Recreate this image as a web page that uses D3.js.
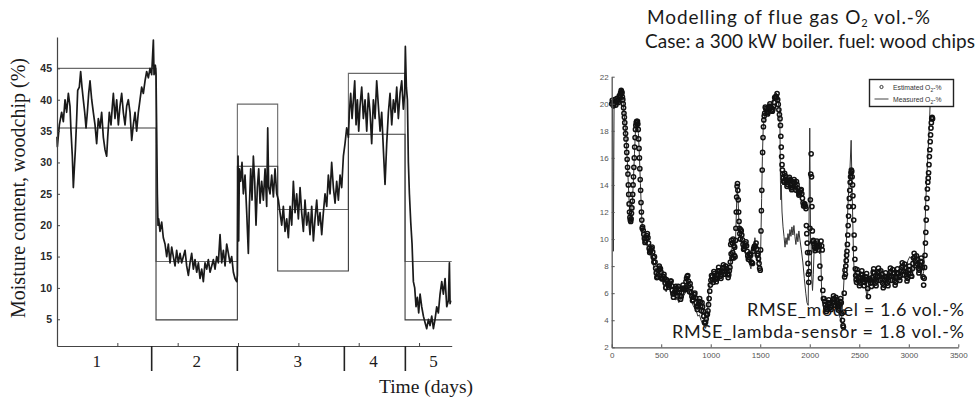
<!DOCTYPE html>
<html><head><meta charset="utf-8">
<script src="https://cdn.jsdelivr.net/npm/d3@7"></script>
<style>body{margin:0;background:#fff} svg{display:block}</style>
</head><body><svg id="c" width="978" height="400"></svg>
<script>
// ---------- Left chart: woodchip moisture ----------
const moistureTicks = [5,10,15,20,25,30,35,40,45];
const dayTicks = [0,1,2,3,4,5,6];
const periodLabels = ["1","2","3","4","5"];
const periodLabelDay = [0.657, 2.315, 3.989, 5.243, 6.238];
const periodSeparatorDay = [1.569, 2.989, 4.762, 5.773];
const bandDay = [0, 1.641, 2.989, 3.657, 4.829, 5.768, 6.541];
const bandUpper = [45, 14.2, 39.3, 22.5, 44.2, 14.2, 14.2];
const bandLower = [35.5, 4.9, 29.4, 12.7, 34.5, 4.9, 4.9];
const moistureDay = [0.000,0.006,0.039,0.077,0.105,0.133,0.160,0.188,0.215,0.232,0.254,0.271,0.287,0.304,0.326,0.343,0.370,0.392,0.414,0.436,0.459,0.481,0.503,0.525,0.547,0.575,0.602,0.630,0.657,0.685,0.713,0.740,0.768,0.796,0.823,0.840,0.867,0.895,0.917,0.934,0.961,0.989,1.017,1.044,1.072,1.099,1.127,1.155,1.182,1.210,1.238,1.265,1.293,1.320,1.348,1.376,1.403,1.431,1.459,1.486,1.514,1.541,1.569,1.597,1.608,1.630,1.641,1.652,1.663,1.674,1.685,1.707,1.735,1.762,1.790,1.818,1.845,1.873,1.901,1.928,1.956,1.983,2.011,2.039,2.066,2.094,2.122,2.149,2.177,2.204,2.232,2.260,2.287,2.315,2.343,2.370,2.398,2.425,2.453,2.481,2.508,2.536,2.564,2.591,2.619,2.646,2.674,2.702,2.729,2.757,2.785,2.812,2.840,2.867,2.895,2.923,2.950,2.978,2.989,3.000,3.011,3.022,3.044,3.066,3.088,3.116,3.144,3.171,3.188,3.210,3.232,3.254,3.276,3.298,3.320,3.343,3.365,3.392,3.420,3.448,3.475,3.492,3.508,3.530,3.558,3.586,3.613,3.641,3.669,3.696,3.724,3.751,3.779,3.807,3.834,3.862,3.890,3.917,3.945,3.972,4.000,4.028,4.055,4.083,4.110,4.138,4.166,4.193,4.221,4.249,4.276,4.304,4.331,4.359,4.387,4.414,4.442,4.470,4.497,4.525,4.552,4.580,4.608,4.635,4.663,4.691,4.718,4.746,4.773,4.801,4.829,4.845,4.867,4.890,4.912,4.934,4.956,4.978,5.000,5.022,5.050,5.077,5.105,5.133,5.160,5.188,5.215,5.243,5.271,5.298,5.326,5.354,5.381,5.409,5.436,5.464,5.492,5.519,5.547,5.575,5.602,5.630,5.657,5.685,5.713,5.740,5.762,5.773,5.790,5.807,5.823,5.840,5.862,5.884,5.906,5.928,5.950,5.972,5.994,6.017,6.044,6.072,6.099,6.127,6.155,6.182,6.210,6.238,6.265,6.293,6.320,6.348,6.376,6.403,6.431,6.459,6.486,6.503,6.514,6.525];
const moisturePct = [34.1,32.5,36,38,36.5,40,38,41,39,35,31,26,29,32,37,41.5,42,44.5,42,40,38,35.5,38,41,43,40,38,36,33,37,35.5,38,34,32,31,34,38,36,39,41,37,40,36,39,41,38,36,39,40,38,33.5,36,38,35,38,40,42,41,43,44.5,43.5,45,44,49.5,44,45.5,44,35,25,20,21,19,20.5,18,17,15,17,14,16.5,15,13.5,16,14,15.5,14,15,16,13.5,12,14,15.5,13,14.5,12.5,14,11.5,13,11,14,13,14.5,12.5,13.5,14.5,13,15,14,18.5,14,16,13.5,17,15.5,14,15,12.5,11.5,11,12,31,17.5,29,27,30,25,28,22,15.5,23,29,24,31,27,20,26,29,23.5,27,24,29,23,35.5,26,25,28,24.5,29,25,24,22,20,23,19,21,18,23,20,27,22,25,21,26,22,19,24,20,22,18.5,23,17.5,21,24,20,22,18.5,22,25,23,28,25,30,26,23.5,27,24,28,26,31,33,35.5,34,38,41,37,40,43,36,40,35,39,42,37,40,35,41,38,33,40,37,43,39,35,38,32,26.5,33,38,41,36,40,38,42,37,41,43,38.5,41,48.5,42,40,30,25,20.5,17,11,10,7,8.5,6,9,7,5.5,4.5,3.5,5,4,5.5,3.5,5,7,6,9,11,9,11.5,7,8,14,7.5,8];

// ---------- Right chart: flue gas O2 ----------
const o2YTicks = [2,4,6,8,10,12,14,16,18,20,22];
const o2XTicks = [0,500,1000,1500,2000,2500,3000,3500];
const estTime = [
0,6,12,18,24,30,36,42,48,54,60,66,72,78,84,90,
96,100,104,108,112,116,120,124,128,132,136,140,144,148,152,156,160,164,168,172,176,180,184,188,192,196,200,204,208,212,216,220,224,228,232,236,240,244,248,252,256,260,264,268,272,276,280,284,288,292,296,300,304,308,
312,318,324,330,336,342,348,354,360,366,
372,378,384,390,396,402,408,414,420,426,
432,438,444,450,456,462,468,474,480,486,
492,498,504,510,516,522,528,534,540,546,
552,558,564,570,576,582,588,594,600,606,
612,618,624,630,636,642,648,654,660,666,
672,678,684,690,696,702,708,714,720,726,
732,738,744,750,756,762,768,774,780,786,
792,798,804,810,816,822,828,834,840,846,
852,858,864,870,876,882,888,894,900,906,
912,918,924,930,936,942,948,954,960,966,
972,978,984,990,996,1002,1008,1014,1020,1026,
1032,1038,1044,1050,1056,1062,1068,1074,1080,1086,
1092,1098,1104,1110,1116,1122,1128,1134,1140,1146,
1152,1158,1164,1170,1176,1182,1188,1194,
1198,1202,1206,1210,1214,1218,1222,1226,1230,1234,1238,1242,1246,1250,1254,1258,1262,1266,1270,1274,1278,1282,1286,1290,1294,1298,1302,
1308,1314,1320,1326,1332,1338,1344,1350,1356,1362,1368,1374,1380,1386,1392,1398,1404,1410,1416,1422,1428,1434,1440,1446,1452,1458,1464,1470,1476,1482,1488,1494,1500,
1504,1508,1512,1516,1520,1524,1528,1532,1536,1540,1544,
1550,1556,1562,1568,1574,1580,1586,1592,1598,1604,1610,1616,1622,1628,1634,1640,1646,1652,1658,1664,1670,1676,1682,1688,1694,1700,
1704,1708,1712,1716,1720,1724,1728,1732,1736,1740,
1746,1752,1758,1764,1770,1776,1782,1788,1794,1800,1806,1812,1818,1824,1830,1836,1842,1848,1854,1860,1866,1872,1878,1884,1890,1896,1902,1908,1914,1920,1926,1932,1938,1944,1950,1956,1962,
1966,1970,1974,1978,1982,1986,1990,1994,1998,2002,2006,2010,2014,2018,2022,2026,2030,
2036,2042,2048,2054,2060,2066,2072,2078,2084,2090,2096,2102,2108,2114,2120,2126,
2132,2138,2144,2150,2156,2162,2168,2174,2180,2186,2192,2198,2204,2210,2216,2222,2228,2234,2240,2246,2252,2258,2264,2270,2276,2282,2288,2294,2300,2306,2312,2318,2324,2330,2336,
2340,2344,2348,2352,2356,2360,2364,2368,2372,2376,2380,2384,2388,2392,2396,2400,2404,2408,2412,2416,2420,2424,2428,2432,2436,2440,2444,2448,2452,2456,2460,2464,2468,2472,
2478,2484,2490,2496,2502,2508,2514,2520,2526,2532,
2538,2544,2550,2556,2562,2568,2574,2580,2586,2592,
2598,2604,2610,2616,2622,2628,2634,2640,2646,2652,
2658,2664,2670,2676,2682,2688,2694,2700,2706,2712,
2718,2724,2730,2736,2742,2748,2754,2760,2766,2772,
2778,2784,2790,2796,2802,2808,2814,2820,2826,2832,
2838,2844,2850,2856,2862,2868,2874,2880,2886,2892,
2898,2904,2910,2916,2922,2928,2934,2940,2946,2952,
2958,2964,2970,2976,2982,2988,2994,3000,3006,3012,
3018,3024,3030,3036,3042,3048,3054,3060,3066,3072,
3078,3084,3090,3096,3102,3108,3114,3120,3126,3132,
3138,3144,3150,3156,
3160,3164,3168,3172,3176,3180,3184,3188,3192,3196,3200,3204,3208,3212,3216,3220,3224,3228,3232,3236,3240];
const estO2 = [
20.0,20.25,20.1,19.85,20.0,20.3,20.15,19.9,20.1,20.4,20.25,20.1,20.35,20.6,20.5,20.8,
21.0,20.9,20.8,20.5,20.3,20.0,19.7,19.3,19.0,18.6,18.2,17.8,17.4,16.9,16.4,15.9,15.3,14.8,14.0,13.3,12.6,12.0,11.6,11.4,11.3,11.5,11.9,12.3,12.8,13.3,14.0,14.6,15.3,16.0,16.8,17.5,18.1,18.4,18.6,18.7,18.5,18.7,18.5,18.1,17.4,16.7,16.0,15.2,14.4,13.6,12.7,12.0,11.4,10.8,
10.9,10.65,10.35,10.05,9.75,9.85,10.05,10.25,10.4,10.1,
9.7,9.3,9.0,9.1,9.2,9.3,9.4,9.05,8.65,8.3,
8.7,8.3,7.85,7.5,7.15,7.2,7.35,7.7,8.0,7.85,
7.8,7.55,7.1,7.05,7.1,7.25,7.4,7.1,6.75,6.4,
7.0,6.9,6.75,6.6,6.45,6.6,6.75,6.9,6.9,6.55,
6.2,5.95,5.7,5.95,6.1,6.35,6.5,6.3,6.05,5.8,
6.5,6.3,6.05,5.8,5.55,5.75,6.05,6.35,6.6,6.35,
6.3,6.25,6.4,6.85,7.1,7.25,7.3,6.9,6.55,6.1,
6.7,6.4,6.05,5.75,5.45,5.5,5.7,5.9,6.0,5.65,
5.3,5.0,4.8,5.0,5.2,5.4,5.6,5.35,5.05,4.7,
5.3,5.0,4.65,4.3,3.85,3.8,3.85,4.1,4.4,4.45,
4.7,5.15,5.6,6.15,6.6,6.95,7.3,7.2,7.0,6.8,
7.6,7.45,7.25,7.05,6.85,7.05,7.35,7.65,7.9,7.65,
7.5,7.25,7.1,7.35,7.6,7.85,8.1,7.9,7.65,7.4,
8.0,7.8,7.6,7.4,7.15,7.35,7.65,7.9,
8.3,9.6,8.9,9.9,8.6,9.7,9.0,10.0,8.6,9.5,8.8,9.4,8.7,9.9,10.8,12.0,13.1,13.9,14.1,13.6,12.9,12.0,11.3,10.8,10.4,10.0,10.7,
10.6,10.3,9.95,9.6,9.25,9.3,9.45,9.65,9.8,9.5,9.1,8.75,8.5,8.65,8.9,8.85,8.8,8.3,8.25,8.2,9.1,9.3,9.45,9.5,9.45,9.7,9.25,8.8,8.9,8.55,8.2,7.85,7.7,
9.2,10.6,12.1,13.6,15.1,16.4,17.5,18.3,18.8,19.1,19.3,
19.75,19.65,19.55,19.35,19.25,19.4,19.55,19.8,20.0,19.8,19.7,19.5,19.45,19.6,19.8,20.1,20.45,20.5,20.55,20.45,20.75,20.3,19.95,19.55,19.2,18.9,
18.4,17.6,16.8,16.1,15.5,15.1,14.8,14.5,14.3,14.2,
14.85,14.67,14.4,14.17,13.9,14.03,14.2,14.43,14.56,14.34,14.06,13.78,13.65,13.83,14.0,14.22,14.4,14.17,13.9,13.62,14.25,14.02,13.75,13.52,13.25,13.33,13.45,13.58,13.66,13.34,13.01,12.68,12.45,12.58,12.6,12.42,12.25,
11.0,10.4,9.7,9.0,8.2,7.4,6.8,7.6,9.0,10.8,12.9,14.8,16.3,14.6,12.4,10.6,9.8,
9.9,9.65,9.4,9.15,9.3,9.55,9.85,9.7,9.45,9.2,9.5,8.0,7.1,9.85,9.5,9.2,
6.2,5.6,5.6,5.4,5.15,4.9,4.65,4.8,5.05,5.3,5.5,5.25,5.2,4.95,4.8,5.05,5.3,5.55,5.8,5.6,5.35,5.1,5.7,5.5,5.25,5.0,4.75,4.9,5.15,5.4,5.6,5.3,4.5,4.0,3.6,
3.5,4.6,6.0,7.2,7.7,7.4,8.0,8.4,8.8,9.1,9.6,10.3,11.0,11.7,12.4,13.0,13.6,14.2,14.6,14.9,15.1,15.0,14.6,14.0,13.2,12.4,11.4,10.3,9.3,8.5,7.8,7.3,7.0,6.8,
7.75,7.5,7.15,6.9,6.55,6.75,7.1,7.4,7.65,7.35,
7.15,6.85,6.55,6.8,7.0,7.2,7.45,7.0,6.35,5.75,
7.05,7.1,6.95,6.75,6.5,6.8,7.15,7.55,7.8,7.5,
7.05,6.75,6.55,6.9,7.2,7.5,7.85,7.6,7.25,6.95,
7.65,7.4,7.05,6.75,6.4,6.6,6.95,7.25,7.5,7.2,
7.05,6.75,6.55,6.9,7.2,7.5,7.85,7.6,7.25,6.95,
7.75,7.5,7.2,6.95,6.6,6.8,7.15,7.5,7.8,7.5,
7.45,7.15,6.95,7.3,7.6,7.9,8.25,8.0,7.65,7.35,
8.15,7.9,7.55,7.25,6.9,7.1,7.45,7.75,8.0,7.7,
7.45,7.25,7.25,7.8,8.2,8.6,8.95,8.7,8.35,8.05,
8.75,8.5,8.15,7.85,7.5,7.7,8.05,8.35,8.6,8.3,
7.9,7.2,6.6,7.1,
7.9,8.8,9.7,10.5,11.4,12.3,13.0,13.7,14.2,14.5,14.9,15.5,16.1,16.6,17.2,17.7,18.2,18.6,18.9,19.0,18.9];
const measTime = [0,8,14,17,20,24,40,60,80,97,110,122,134,146,158,170,180,190,200,210,220,230,240,250,260,270,280,290,300,310,326,342,358,374,390,406,422,438,454,470,486,502,518,534,550,566,582,598,614,630,646,662,678,694,710,726,742,758,774,790,806,822,838,854,870,886,902,918,934,948,960,972,984,998,1014,1030,1046,1062,1078,1094,1110,1126,1142,1158,1174,1190,1206,1222,1238,1250,1260,1268,1276,1284,1296,1310,1326,1342,1358,1374,1390,1406,1422,1438,1446,1462,1478,1494,1505,1514,1522,1530,1542,1558,1574,1590,1606,1622,1638,1654,1662,1670,1686,1698,1704,1708,1712,1720,1730,1740,1750,1760,1770,1780,1790,1800,1810,1820,1830,1840,1850,1860,1870,1880,1890,1900,1915,1930,1945,1960,1972,1984,1992,2000,2008,2014,2020,2028,2036,2044,2052,2060,2070,2080,2090,2100,2110,2120,2130,2140,2160,2180,2200,2220,2240,2260,2280,2300,2320,2340,2350,2360,2375,2390,2405,2418,2426,2434,2442,2454,2466,2480,2500,2520,2540,2560,2580,2594,2610,2630,2650,2670,2690,2710,2730,2750,2770,2790,2810,2830,2850,2870,2890,2910,2930,2950,2970,2990,3010,3030,3050,3070,3090,3110,3130,3150,3160,3170,3180,3190,3200,3210,3218,3225];
const measO2 = [20.0,20.1,15.0,9.1,14.0,19.8,20.1,20.2,20.4,21.0,20.5,19.6,18.5,17.3,15.7,13.7,12.1,11.3,11.8,12.9,14.5,16.3,18.0,18.6,18.6,17.8,16.1,14.1,12.1,10.7,9.9,9.7,9.5,9.0,8.9,8.5,8.0,7.9,7.3,7.4,7.8,7.9,6.8,6.4,6.1,6.5,6.5,6.0,5.8,6.0,5.5,5.6,5.3,5.6,5.6,5.8,6.0,7.0,6.2,5.8,5.4,5.1,4.9,4.7,4.3,4.4,4.0,3.8,3.6,3.4,3.8,5.0,6.4,6.8,7.0,7.1,7.3,7.6,7.5,7.7,7.8,7.6,7.4,7.3,7.6,7.4,9.2,9.4,9.1,9.7,12.3,13.8,13.0,11.3,10.2,9.9,9.5,9.1,8.7,8.4,8.2,7.8,9.1,9.2,10.1,8.7,8.4,8.2,9.4,13.0,16.1,18.2,19.1,19.3,19.4,19.6,19.8,20.0,20.2,20.4,20.8,20.6,19.9,19.2,14.3,12.9,14.0,12.0,10.9,10.2,9.4,10.1,9.6,10.4,9.9,10.7,10.2,10.9,10.3,11.0,10.2,9.6,10.4,9.8,10.6,10.0,9.2,8.3,7.1,6.0,5.3,5.1,10.5,18.2,10.0,9.6,7.2,6.2,7.4,9.2,9.6,9.3,9.7,9.1,9.5,8.9,9.3,6.0,5.4,4.9,5.2,5.5,5.3,5.6,5.1,5.4,4.8,4.3,3.9,6.2,7.6,8.4,10.6,13.2,15.0,17.3,14.2,11.5,8.6,7.0,7.3,6.8,7.4,6.9,7.5,6.6,5.6,6.8,7.2,7.5,7.0,7.3,6.9,7.4,7.0,7.5,7.2,7.6,7.1,7.4,7.0,7.7,7.6,7.9,7.7,7.6,7.5,8.4,8.7,8.5,8.6,8.4,8.3,8.2,7.0,7.6,9.8,12.4,14.3,15.8,17.2,18.8,20.5];

const svg = d3.select("#c");
const ink = "#1a1a1a";

// ===== LEFT CHART =====
const xL = d3.scaleLinear().domain([0, 6.541]).range([57, 451.7]);
const yL = d3.scaleLinear().domain([0.74, 50]).range([346, 37]);
const gL = svg.append("g");

const stepLine = d3.line().x(d=>xL(d[0])).y(d=>yL(d[1])).curve(d3.curveStepAfter);
gL.append("path").datum(bandDay.map((d,i)=>[d,bandUpper[i]]))
  .attr("d", stepLine).attr("fill","none").attr("stroke","#6a6a6a").attr("stroke-width",1.1);
gL.append("path").datum(bandDay.map((d,i)=>[d,bandLower[i]]))
  .attr("d", stepLine).attr("fill","none").attr("stroke","#3a3a3a").attr("stroke-width",1.1);

gL.append("path").datum(moistureDay.map((d,i)=>[d,moisturePct[i]]))
  .attr("d", d3.line().x(d=>xL(d[0])).y(d=>yL(d[1])))
  .attr("fill","none").attr("stroke",ink).attr("stroke-width",1.7).attr("stroke-linejoin","round");

const yAxL = gL.append("g").attr("transform","translate(57,0)")
  .call(d3.axisLeft(yL).tickValues(moistureTicks).tickSizeInner(-3).tickSizeOuter(0).tickPadding(5));
yAxL.select(".domain").attr("stroke","#444").attr("stroke-width",1.2);
yAxL.selectAll(".tick line").attr("stroke","#444");
yAxL.selectAll("text").attr("font-family","Liberation Sans, Arial, sans-serif").attr("font-size",10.5)
  .attr("font-weight","bold").attr("fill","#2a2a2a");

const xAxL = gL.append("g").attr("transform","translate(0,346)")
  .call(d3.axisBottom(xL).tickValues(dayTicks).tickSizeInner(-3).tickSizeOuter(0).tickFormat(""));
xAxL.select(".domain").attr("stroke","#444").attr("stroke-width",1.2);
xAxL.selectAll(".tick line").attr("stroke","#444");

gL.selectAll(".sep").data(periodSeparatorDay).enter().append("line")
  .attr("x1",d=>xL(d)).attr("x2",d=>xL(d)).attr("y1",346).attr("y2",371)
  .attr("stroke","#222").attr("stroke-width",1.6);
gL.selectAll(".plab").data(periodLabels).enter().append("text")
  .attr("x",(d,i)=>xL(periodLabelDay[i])).attr("y",366.5).attr("text-anchor","middle")
  .attr("font-family","Liberation Serif, Times New Roman, serif").attr("font-size",17).attr("fill",ink)
  .text(d=>d);
gL.append("text").attr("x",473).attr("y",393).attr("text-anchor","end")
  .attr("font-family","Liberation Serif, Times New Roman, serif").attr("font-size",19.5).attr("fill",ink)
  .text("Time (days)");
gL.append("text").attr("transform","translate(25,188) rotate(-90)").attr("text-anchor","middle")
  .attr("font-family","Liberation Serif, Times New Roman, serif").attr("font-size",20).attr("fill",ink)
  .text("Moisture content, woodchip (%)");

// ===== RIGHT CHART =====
const xR = d3.scaleLinear().domain([0, 3500]).range([611.7, 958.3]);
const yR = d3.scaleLinear().domain([2, 22]).range([347.3, 76.7]);
const gR = svg.append("g");
const gillFont = "Lato, 'Open Sans', sans-serif";

function fitWidth(sel, w){
  const n = sel.text().length;
  const cur = sel.node().getComputedTextLength();
  sel.attr("letter-spacing", ((w-cur)/Math.max(1,n-1)).toFixed(2)+"px");
}

const t1 = gR.append("text").attr("x",647).attr("y",24).attr("font-family",gillFont)
  .attr("font-size",19).attr("fill",ink);
t1.append("tspan").text("Modelling of flue gas O");
t1.append("tspan").attr("font-size",11).attr("dy",3).text("2");
t1.append("tspan").attr("dy",-3).text(" vol.-%");
fitWidth(t1, 283);
const t2 = gR.append("text").attr("x",645).attr("y",48).attr("font-family",gillFont)
  .attr("font-size",19).attr("fill",ink).text("Case: a 300 kW boiler. fuel: wood chips");
fitWidth(t2, 330);

const r1 = gR.append("text").attr("x",747).attr("y",316).attr("font-family",gillFont)
  .attr("font-size",18).attr("fill",ink).text("RMSE_model = 1.6 vol.-%");
fitWidth(r1, 217);
const r2 = gR.append("text").attr("x",672).attr("y",338).attr("font-family",gillFont)
  .attr("font-size",18).attr("fill",ink).text("RMSE_lambda-sensor = 1.8 vol.-%");
fitWidth(r2, 292);

gR.append("path").datum(measTime.map((d,i)=>[d,measO2[i]]))
  .attr("d", d3.line().x(d=>xR(d[0])).y(d=>yR(d[1])))
  .attr("fill","none").attr("stroke","#333").attr("stroke-width",1);

const nEst = Math.min(estTime.length, estO2.length);
gR.append("g").selectAll("circle").data(d3.range(nEst).map(i=>[estTime[i],estO2[i]])).enter().append("circle")
  .attr("cx",d=>xR(d[0])).attr("cy",d=>yR(d[1])).attr("r",2.1)
  .attr("fill","none").attr("stroke","#111").attr("stroke-width",1.5);

const yAxR = gR.append("g").attr("transform","translate(611.7,0)")
  .call(d3.axisLeft(yR).tickValues(o2YTicks).tickSizeInner(-3).tickSizeOuter(0).tickPadding(3).tickFormat(d3.format("d")));
const xAxR = gR.append("g").attr("transform","translate(0,347.3)")
  .call(d3.axisBottom(xR).tickValues(o2XTicks).tickSizeInner(-3).tickSizeOuter(0).tickPadding(5).tickFormat(d3.format("d")));
[yAxR,xAxR].forEach(a=>{
  a.select(".domain").attr("stroke","#555").attr("stroke-width",1.3);
  a.selectAll(".tick line").attr("stroke","#555");
  a.selectAll("text").attr("font-family","Liberation Sans, Arial, sans-serif").attr("font-size",8).attr("fill","#555");
});

const lg = gR.append("g");
lg.append("rect").attr("x",869.5).attr("y",79.5).attr("width",84).attr("height",27)
  .attr("fill","#fff").attr("stroke","#222").attr("stroke-width",1.4);
lg.append("circle").attr("cx",881.5).attr("cy",87).attr("r",1.6).attr("fill","none").attr("stroke","#222").attr("stroke-width",0.9);
lg.append("line").attr("x1",874.5).attr("x2",888.5).attr("y1",99).attr("y2",99).attr("stroke","#444").attr("stroke-width",1);
const legendNames = ["Estimated O", "Measured O"];
legendNames.forEach((n,i)=>{
  const tx = lg.append("text").attr("x",893).attr("y",89.5+i*12).attr("font-family","Liberation Sans, Arial, sans-serif")
    .attr("font-size",6.8).attr("fill","#333");
  tx.append("tspan").text(n);
  tx.append("tspan").attr("font-size",5).attr("dy",2).text("2");
  tx.append("tspan").attr("dy",-2).text("-%");
});
</script></body></html>
